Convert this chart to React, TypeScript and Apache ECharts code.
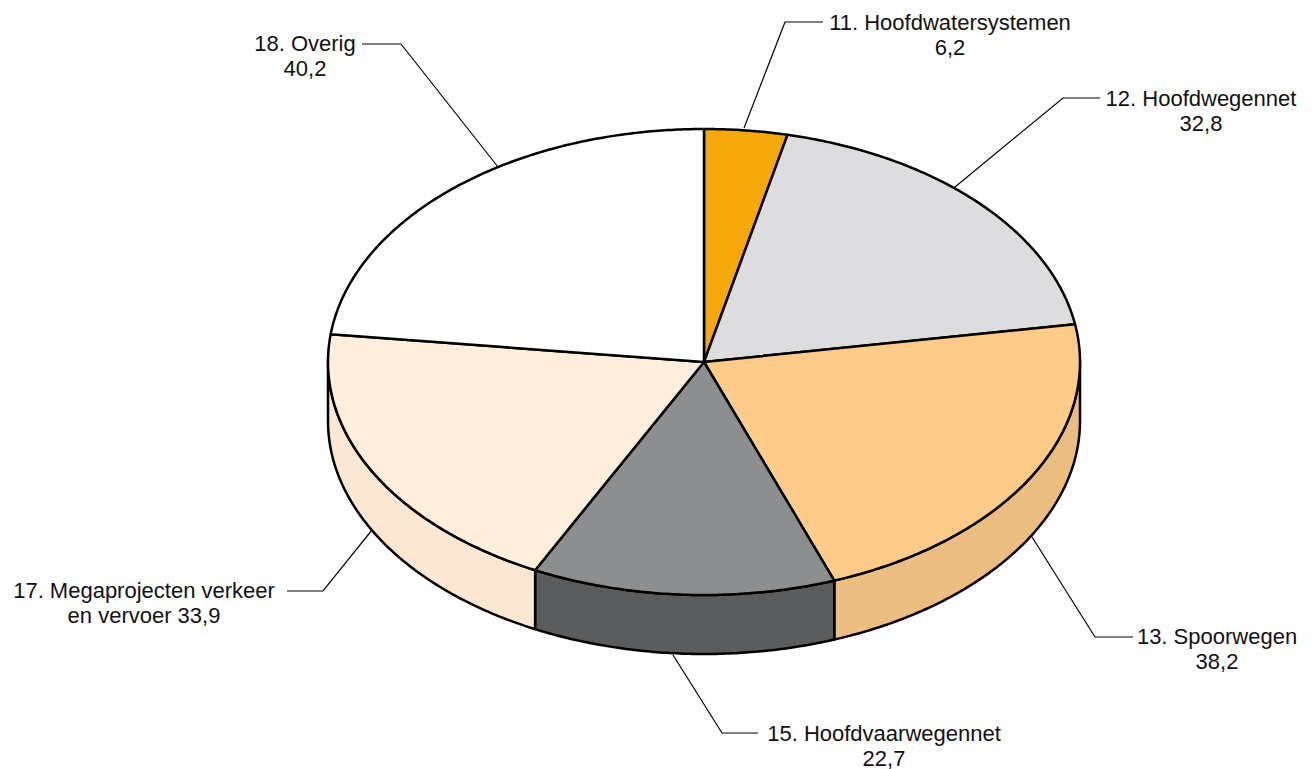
import React, { useEffect, useRef } from "react";
import * as echarts from "echarts";

// ---- data ----
const categories = [
  "11. Hoofdwatersystemen",
  "12. Hoofdwegennet",
  "13. Spoorwegen",
  "15. Hoofdvaarwegennet",
  "17. Megaprojecten verkeer\nen vervoer",
  "18. Overig",
];
const values = [6.2, 32.8, 38.2, 22.7, 33.9, 40.2];

// ---- styles ----
const TOP_COLORS = ["#F4A80A", "#DDDDDF", "#FECB8A", "#8D8E90", "#FEEEDC", "#FFFFFF"];
const SIDE_COLORS = ["#D9920A", "#BDBDBF", "#EBBD80", "#5B5C5E", "#FBE7D2", "#E6E6E6"];
const FONT_FAMILY = "'Liberation Sans', Arial, sans-serif";
const FONT_SIZE = 22;
const LINE_HEIGHT = 25;

// ---- layout ----
const PIE = { cx: 704, cy: 362, rx: 376, ry: 233, depth: 59 };
const LABEL_LAYOUT = [
  { line: [[744, 128], [785, 22], [823, 22]], text: [950, 34.5] },
  { line: [[955, 187], [1063, 98], [1100, 98]], text: [1201, 110.5] },
  { line: [[1032, 537], [1095, 637], [1133, 637]], text: [1217, 649] },
  { line: [[673, 655], [722, 733], [758, 733]], text: [884, 745.5] },
  { line: [[372, 530], [323, 591], [287, 591]], text: [144, 603] },
  { line: [[498, 167], [401, 44], [362, 44]], text: [305, 55.5] },
];

const total = values.reduce((s, v) => s + v, 0);
const sliceData = (() => {
  let acc = 0;
  return values.map((v, i) => {
    const a = (acc / total) * 360;
    acc += v;
    const b = (acc / total) * 360;
    return [a, b, i];
  });
})();

function pt(t: number, dy = 0): number[] {
  const r = (t * Math.PI) / 180;
  return [PIE.cx + PIE.rx * Math.sin(r), PIE.cy - PIE.ry * Math.cos(r) + dy];
}
function arc(a: number, b: number, dy = 0): number[][] {
  const n = Math.max(2, Math.ceil(Math.abs(b - a) / 0.5));
  const out: number[][] = [];
  for (let i = 0; i <= n; i++) out.push(pt(a + ((b - a) * i) / n, dy));
  return out;
}
function fmt(v: number) {
  return v.toFixed(1).replace(".", ",");
}

export default function App() {
  const ref = useRef<HTMLDivElement>(null);
  useEffect(() => {
    if (!ref.current) return;
    const chart = echarts.init(ref.current, undefined, { renderer: "svg" });
    const edge = { stroke: "#000", lineWidth: 2.5, lineJoin: "round" };
    chart.setOption({
      animation: false,
      backgroundColor: "#fff",
      series: [
        {
          type: "custom",
          name: "side",
          coordinateSystem: "none",
          z: 1,
          data: sliceData,
          renderItem: (params: any, api: any) => {
            const a = Math.max(api.value(0), 90);
            const b = Math.min(api.value(1), 270);
            const i = api.value(2);
            if (b <= a) return { type: "group", children: [] };
            const pts = arc(a, b, 0).concat(arc(b, a, PIE.depth));
            return {
              type: "polygon",
              shape: { points: pts },
              style: { fill: SIDE_COLORS[i], ...edge },
            };
          },
        },
        {
          type: "custom",
          name: "top",
          coordinateSystem: "none",
          z: 2,
          data: sliceData,
          renderItem: (params: any, api: any) => {
            const a = api.value(0);
            const b = api.value(1);
            const i = api.value(2);
            const pts = [[PIE.cx, PIE.cy]].concat(arc(a, b, 0));
            return {
              type: "polygon",
              shape: { points: pts },
              style: { fill: TOP_COLORS[i], ...edge },
            };
          },
        },
        {
          type: "custom",
          name: "labels",
          coordinateSystem: "none",
          z: 3,
          data: sliceData,
          renderItem: (params: any, api: any) => {
            const i = api.value(2);
            const lay = LABEL_LAYOUT[i];
            const name = categories[i];
            const txt = name + (name.indexOf("\n") >= 0 ? " " : "\n") + fmt(values[i]);
            return {
              type: "group",
              children: [
                {
                  type: "polyline",
                  shape: { points: lay.line },
                  style: { stroke: "#000", lineWidth: 1.2, fill: null },
                },
                {
                  type: "text",
                  x: lay.text[0],
                  y: lay.text[1],
                  style: {
                    text: txt,
                    fill: "#111",
                    fontFamily: FONT_FAMILY,
                    fontSize: FONT_SIZE,
                    lineHeight: LINE_HEIGHT,
                    align: "center",
                    verticalAlign: "middle",
                  },
                },
              ],
            };
          },
        },
      ],
    });
    return () => chart.dispose();
  }, []);
  return (
    <div
      ref={ref}
      style={{ position: "fixed", left: 0, top: 0, width: 1315, height: 769 }}
    />
  );
}
